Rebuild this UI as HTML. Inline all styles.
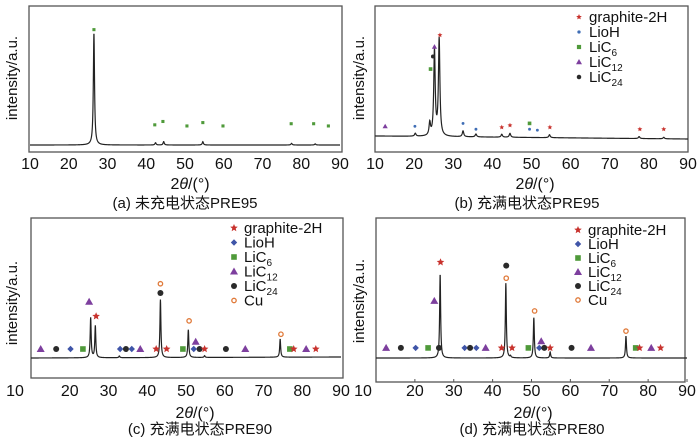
<!DOCTYPE html>
<html><head><meta charset="utf-8"><style>
body{margin:0;background:#fff;}
svg{display:block;font-family:"Liberation Sans","Noto Sans CJK SC",sans-serif;}
</style></head><body>
<svg id="fig" width="700" height="438" viewBox="0 0 700 438"></svg>
<script>
// ---- data ----
const aPeakPos=[26.5,42.4,44.5,54.6,77.5,83.6];
const aPeakH=[100,2,3,3,1.5,1];
const aMarkX=[26.5,42.2,44.3,50.5,54.6,59.8,77.4,83.2,87];
const aMarkH=[103,18,21,17,20,17,19,19,17];
const aMarkT=["sq","sq","sq","sq","sq","sq","sq","sq","sq"];

const bPeakPos=[20.3,24.0,25.2,26.4,32.5,35.8,42.4,44.5,54.6,77.5,83.8];
const bPeakH=[3,13,88,100,6,3,3,4,3,2,1.5];
const bMarkX=[12.6,20.2,26.6,25.2,24.8,24.2,32.5,35.8,42.4,44.5,49.5,49.5,51.5,54.7,77.7,83.8];
const bMarkH=[10,10,104,92,82,69,13,7,9,11,13,7,6,9,7,7];
const bMarkT=["tri","dot","star","tri","blk","sq","dot","dot","star","star","sq","dot","dot","star","star","star"];

const cPeakPos=[25.4,26.6,32.8,43.4,50.6,54.8,74.3];
const cPeakH=[69,55,3,100,48,3,31];
const cMarkX=[12.5,16.5,20.2,23.4,25,26.8,33,34.5,36,38.2,42.3,45,43.4,43.4,49.2,50.8,52,52.5,53.5,54.8,60.3,65.3,74.5,76.8,77.8,81,83.5];
const cMarkH=[15.5,15.5,15.5,15.5,97,72,15.5,15.5,15.5,15.5,15.5,15.5,128,112,15.5,64,15.5,28,15.5,15.5,15.5,15.5,41,15.5,15.5,15.5,15.5];
const cMarkT=["tri","blk","dia","sq","tri","star","dia","blk","dia","tri","star","star","cu","blk","sq","cu","dia","tri","blk","star","blk","tri","cu","sq","star","tri","star"];

const dPeakPos=[26.5,43.4,44.6,50.6,54.8,74.3];
const dPeakH=[100,89,2,48,7,26];
const dMarkX=[12.6,16.4,20.2,23.4,26.2,26.6,25,32.8,34.2,35.8,38.2,42.3,45,43.5,43.5,49.2,50.8,52,52.5,53.3,54.8,60.3,65.3,74.3,76.8,77.8,80.8,83.2];
const dMarkH=[12,12,12,12,12,114,68,12,12,12,12,12,12,110,95,12,56,12,20,12,12,12,12,32,12,12,12,12];
const dMarkT=["tri","blk","dia","sq","blk","star","tri","dia","blk","dia","tri","star","star","blk","cu","sq","cu","dia","tri","blk","star","blk","tri","cu","sq","star","tri","star"];

const xTicks=[10,20,30,40,50,60,70,80,90];
const legendLabels=[["star","graphite-2H"],["dia","LioH"],["sq","LiC","6"],["tri","LiC","12"],["blk","LiC","24"],["cu","Cu"]];

// ---- drawing ----
const NS="http://www.w3.org/2000/svg";
const svg=document.getElementById('fig');
function mk(tag,attrs,parent){const e=document.createElementNS(NS,tag);for(const k in attrs)e.setAttribute(k,attrs[k]);(parent||svg).appendChild(e);return e;}
const COL={star:"#c8322d",dot:"#3f6db5",dia:"#3f55a8",sq:"#4f9a3a",tri:"#7d3f9e",blk:"#2a2a2a",cu:"#e07a3a"};

function marker(g,t,x,y,s){
  let e;
  if(t==="star"){let p="";for(let i=0;i<10;i++){const r=i%2?s*0.45:s;const a=-Math.PI/2+i*Math.PI/5;p+=(i?"L":"M")+(x+r*Math.cos(a)).toFixed(2)+","+(y+r*Math.sin(a)).toFixed(2);}e=mk('path',{d:p+"Z",fill:COL.star},g);}
  else if(t==="sq"){e=mk('rect',{x:x-s*0.7,y:y-s*0.7,width:s*1.4,height:s*1.4,fill:COL.sq},g);}
  else if(t==="tri"){e=mk('path',{d:`M${x},${y-s}L${x+s},${y+s*0.75}L${x-s},${y+s*0.75}Z`,fill:COL.tri},g);}
  else if(t==="dia"){e=mk('path',{d:`M${x},${y-s*0.8}L${x+s*0.8},${y}L${x},${y+s*0.8}L${x-s*0.8},${y}Z`,fill:COL.dia},g);}
  else if(t==="cu"){e=mk('circle',{cx:x,cy:y,r:s*0.55,fill:"none",stroke:COL.cu,"stroke-width":1.3},g);}
  else {e=mk('circle',{cx:x,cy:y,r:t==="dot"?s*0.55:s*0.75,fill:COL[t]},g);}
  
  
}

function panel(cfg,pos,hts,mx,mh,mt){
  const g=mk('g',{});
  
  
  const X=v=>cfg.x0+(v-10)/80*(cfg.x1-cfg.x0);
  const Y=v=>cfg.base-v*cfg.unit;
  const fr=mk('rect',{x:cfg.fx0,y:cfg.fy0,width:cfg.fx1-cfg.fx0,height:cfg.fy1-cfg.fy0,fill:"none",stroke:"#555","stroke-width":1.3},g);
  
  
  // line
  let d="";
  for(let v=10;v<=90.001;v+=0.04){
    let I=0;for(let i=0;i<pos.length;i++){const w=cfg.w;const dx=v-pos[i];I+=hts[i]/(1+(dx/w)*(dx/w));}
    const slope=cfg.slope*(v-10)/80;
    d+=(d?"L":"M")+X(v).toFixed(2)+","+(Y(I)+slope).toFixed(2);
  }
  const ln=mk('path',{d:d,fill:"none",stroke:"#222","stroke-width":1.2},g);
  
  
  for(let i=0;i<mx.length;i++)marker(g,mt[i],X(mx[i]),Y(mh[i]),cfg.ms);
  // ticks
  xTicks.forEach((t,i)=>{
    if(cfg.tickMarks){const tm=mk('line',{x1:X(t),x2:X(t),y1:cfg.fy1,y2:cfg.fy1-3,stroke:"#555"},g);
      
      }
    const tx=mk('text',{x:X(t)+(i===0?cfg.firstShift:0),y:cfg.tickY,"font-size":16,"text-anchor":"middle",fill:"#111"},g);
    tx.textContent=t;
    
    
  });
  const xt=mk('text',{x:cfg.xtX,y:cfg.xtY,"font-size":16,"text-anchor":"middle",fill:"#111"},g);
  xt.innerHTML='2<tspan font-style="italic">θ</tspan>/(°)';
  
  
  const yt=mk('text',{x:0,y:0,"font-size":15,"text-anchor":"middle",fill:"#111",transform:`translate(${cfg.ytX},${cfg.ytY}) rotate(-90)`},g);
  yt.textContent="intensity/a.u.";
  
  
  const cp=mk('text',{x:cfg.capX,y:cfg.capY,"font-size":15,"text-anchor":"middle",fill:"#111"},g);
  cp.textContent=cfg.cap;
  
  
  if(cfg.leg){
    const lg=mk('g',{},g);
    
    
    legendLabels.slice(0,cfg.legN).forEach((L,i)=>{
      const y=cfg.legY+i*cfg.legDy;
      let t=L[0];if(cfg.id==="b"&&t==="dia")t="dot";
      marker(lg,t,cfg.legX,y,cfg.legMs);
      const tx=mk('text',{x:cfg.legX+10,y:y+5,"font-size":15,fill:"#111"},lg);
      
      
      tx.innerHTML=L[1]+(L[2]?`<tspan font-size="10" dy="4">${L[2]}</tspan>`:"");
    });
  }
}

panel({id:"a",fx0:29,fy0:6,fx1:342,fy1:152,x0:30,x1:340,base:145,unit:1.12,w:0.18,slope:0,ms:2.2,tickY:169,firstShift:0,xtX:190,xtY:189,ytX:17,ytY:78,capX:185,capY:208,cap:"(a) 未充电状态PRE95"},aPeakPos,aPeakH,aMarkX,aMarkH,aMarkT);
panel({id:"b",fx0:375,fy0:6,fx1:688,fy1:152,x0:375,x1:688,base:136,unit:0.97,w:0.22,slope:3,ms:2.6,tickY:169,firstShift:0,xtX:535,xtY:189,ytX:364,ytY:78,capX:527,capY:208,cap:"(b) 充满电状态PRE95",leg:true,legN:5,legX:579,legY:17,legDy:15,legMs:3},bPeakPos,bPeakH,bMarkX,bMarkH,bMarkT);
panel({id:"c",fx0:31,fy0:218,fx1:343,fy1:378,x0:31,x1:341,base:358,unit:0.58,w:0.15,slope:-1,ms:4,tickY:396,firstShift:-16,xtX:195,xtY:418,ytX:17,ytY:303,capX:200,capY:434,cap:"(c) 充满电状态PRE90",leg:true,legN:6,legX:234,legY:228,legDy:14.5,legMs:4},cPeakPos,cPeakH,cMarkX,cMarkH,cMarkT);
panel({id:"d",fx0:376,fy0:218,fx1:685,fy1:382,x0:376,x1:687,base:358,unit:0.84,w:0.15,slope:0,ms:4,tickY:396,firstShift:-13,tickMarks:true,xtX:533,xtY:418,ytX:364,ytY:301,capX:532,capY:434,cap:"(d) 充满电状态PRE80",leg:true,legN:6,legX:578,legY:230,legDy:14,legMs:4},dPeakPos,dPeakH,dMarkX,dMarkH,dMarkT);
</script>
</body></html>
